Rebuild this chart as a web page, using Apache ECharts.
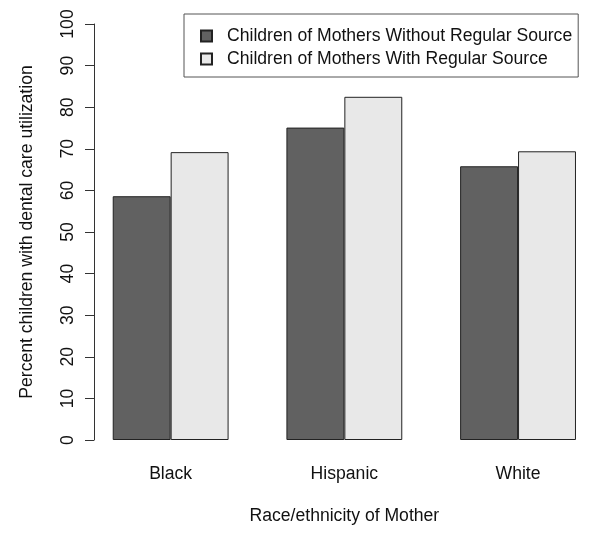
<!DOCTYPE html>
<html>
<head>
<meta charset="utf-8">
<script src="https://cdn.jsdelivr.net/npm/echarts@6/dist/echarts.min.js"></script>
<style>html,body{margin:0;padding:0;background:#fff;}#c{width:600px;height:539px;}</style>
</head>
<body>
<div id="c"></div>
<script>
var categories = ['Black', 'Hispanic', 'White'];
var withoutSource = [58.6, 75.1, 65.8];
var withSource = [69.2, 82.5, 69.4];
var seriesNames = ['Children of Mothers Without Regular Source', 'Children of Mothers With Regular Source'];
var yTicks = [0, 10, 20, 30, 40, 50, 60, 70, 80, 90, 100];

var chart = echarts.init(document.getElementById('c'), null, {renderer: 'canvas'});
var font = 'Liberation Sans, Arial, sans-serif';
var fs = 17.6;
chart.setOption({
  animation: false,
  backgroundColor: '#ffffff',
  textStyle: {fontFamily: font},
  grid: {left: 83.8, right: -4.9, top: 24, bottom: 99, containLabel: false, outerBoundsMode: 'none'},
  legend: {
    orient: 'vertical',
    left: 184, top: 14,
    padding: [13, 6, 9, 16],
    borderColor: '#555', borderWidth: 1,
    itemWidth: 11, itemHeight: 11, itemGap: 5,
    textStyle: {fontSize: fs, color: '#111', fontFamily: font, padding: [0, 0, 0, 10]},
    data: seriesNames.map(function(n){return {name: n, icon: 'rect'};})
  },
  xAxis: {
    type: 'category',
    data: categories,
    axisLine: {show: false},
    axisTick: {show: false},
    axisLabel: {fontSize: fs, color: '#111', margin: 25, fontFamily: font},
    name: 'Race/ethnicity of Mother',
    nameLocation: 'middle',
    nameGap: 67,
    nameTextStyle: {fontSize: fs, color: '#111', fontFamily: font}
  },
  yAxis: {
    type: 'value',
    min: 0, max: 100, interval: 10,
    offset: -10.2,
    splitLine: {show: false},
    axisLine: {show: true, lineStyle: {color: '#333', width: 1}},
    axisTick: {show: true, length: 9, lineStyle: {color: '#333'}},
    axisLabel: {fontSize: fs, color: '#111', rotate: 90, margin: 17, fontFamily: font,
      formatter: function(v){ return yTicks.indexOf(v) >= 0 ? String(v) : ''; }},
    name: 'Percent children with dental care utilization',
    nameLocation: 'middle',
    nameRotate: 90,
    nameGap: 58,
    nameTextStyle: {fontSize: fs, color: '#111', fontFamily: font}
  },
  series: [
    {name: seriesNames[0], type: 'bar', data: withoutSource, barGap: '0%', barCategoryGap: '33.3%',
     itemStyle: {color: '#616161', borderColor: '#222', borderWidth: 1}},
    {name: seriesNames[1], type: 'bar', data: withSource,
     itemStyle: {color: '#e8e8e8', borderColor: '#222', borderWidth: 1}}
  ]
});
</script>
</body>
</html>
